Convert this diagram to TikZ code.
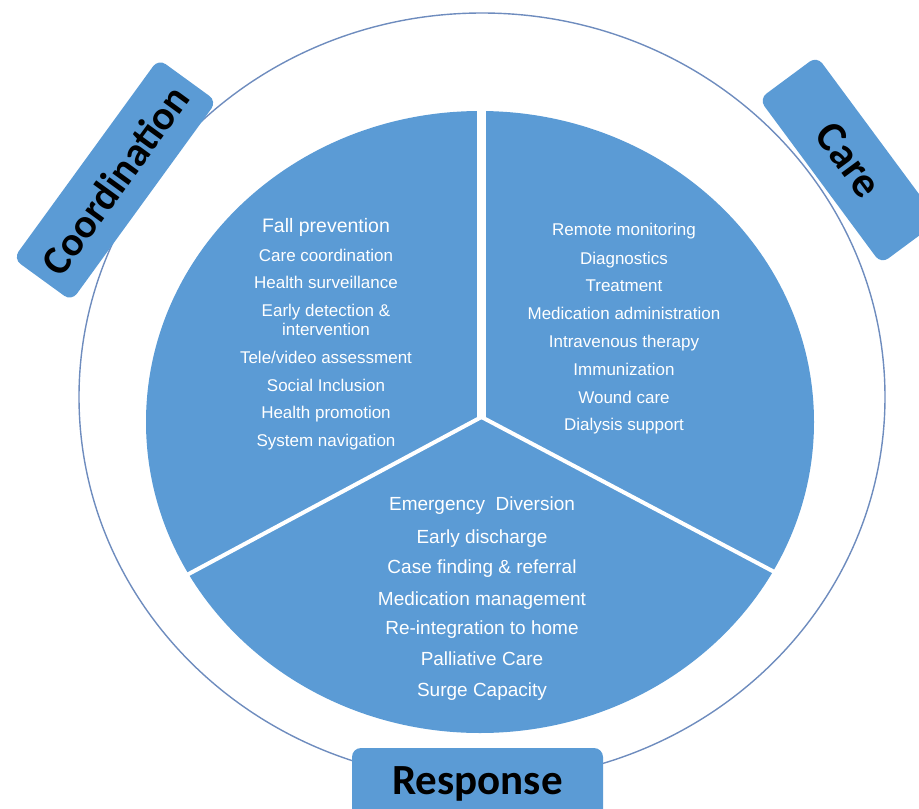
\documentclass[tikz,border=0pt]{standalone}
\usepackage{fontspec}
\usetikzlibrary{calc}
\setmainfont{Liberation Sans}
\newfontfamily\labfont{Carlito}
\definecolor{pieblue}{RGB}{91,155,213}
\definecolor{ringcol}{RGB}{110,140,190}
\begin{document}
\begin{tikzpicture}[x=1pt,y=-1pt,
  item/.style={text=white, font=\fontsize{17}{20}\selectfont, text height=12pt, text depth=3.5pt, inner sep=0pt},
  bitem/.style={item, font=\fontsize{19}{22}\selectfont, text height=13.5pt, text depth=4pt},
  tag/.style={fill=pieblue, rounded corners=9pt, minimum width=247pt, minimum height=72pt, inner sep=0pt, font=\labfont\bfseries\fontsize{43}{46}\selectfont, text=black},
  gap/.style={draw=white, line width=#1}]
\useasboundingbox (0,0) rectangle (919,809);
\clip (0,0) rectangle (919,809);
% outer ring
\draw[ringcol, line width=1.4pt] (482,397) ellipse [x radius=403, y radius=384];
% pie
\fill[pieblue] (480,422) ellipse [x radius=334, y radius=311];
\coordinate (ctr) at (481.5,417);
\coordinate (topend) at (481.5,95);
\coordinate (leftend) at ($(ctr)+1.15*(-291,156)$);
\coordinate (rightend) at ($(ctr)+1.15*(291,154)$);
\draw[gap=9pt] (ctr) -- (topend);
\draw[gap=4pt] (ctr) -- (leftend);
\draw[gap=4pt] (ctr) -- (rightend);
% left list
\node[item, font=\fontsize{19.5}{22}\selectfont] (l1) at (326,228) {Fall prevention};
\node[item] (l2) at (326,257) {Care coordination};
\node[item] (l3) at (326,284) {Health surveillance};
\node[item] (l4) at (326,312) {Early detection \&};
\node[item] (l5) at (326,331) {intervention};
\node[item] (l6) at (326,359) {Tele/video assessment};
\node[item] (l7) at (326,387) {Social Inclusion};
\node[item] (l8) at (326,414) {Health promotion};
\node[item] (l9) at (326,442) {System navigation};
% right list
\node[item] (r1) at (624,231) {Remote monitoring};
\node[item] (r2) at (624,260) {Diagnostics};
\node[item] (r3) at (624,287) {Treatment};
\node[item] (r4) at (624,315) {Medication administration};
\node[item] (r5) at (624,343) {Intravenous therapy};
\node[item] (r6) at (624,371) {Immunization};
\node[item] (r7) at (624,399) {Wound care};
\node[item] (r8) at (624,426) {Dialysis support};
% bottom list
\node[bitem] (b1) at (482,506) {Emergency\ \ Diversion};
\node[bitem] (b2) at (482,539) {Early discharge};
\node[bitem] (b3) at (482,569) {Case finding \& referral};
\node[bitem] (b4) at (482,601) {Medication management};
\node[bitem] (b5) at (482,630) {Re-integration to home};
\node[bitem] (b6) at (482,661) {Palliative Care};
\node[bitem] (b7) at (482,692) {Surge Capacity};
% tags
\node[tag, rotate=54, font=\labfont\bfseries\fontsize{41}{44}\selectfont] (coord) at (115,180) {Coordination};
\node[tag, rotate=-53.5, minimum width=205pt] (care) at (849,160) {Care};
\node[tag, minimum width=251pt] (resp) at (477.5,784) {Response};
\end{tikzpicture}
\end{document}
